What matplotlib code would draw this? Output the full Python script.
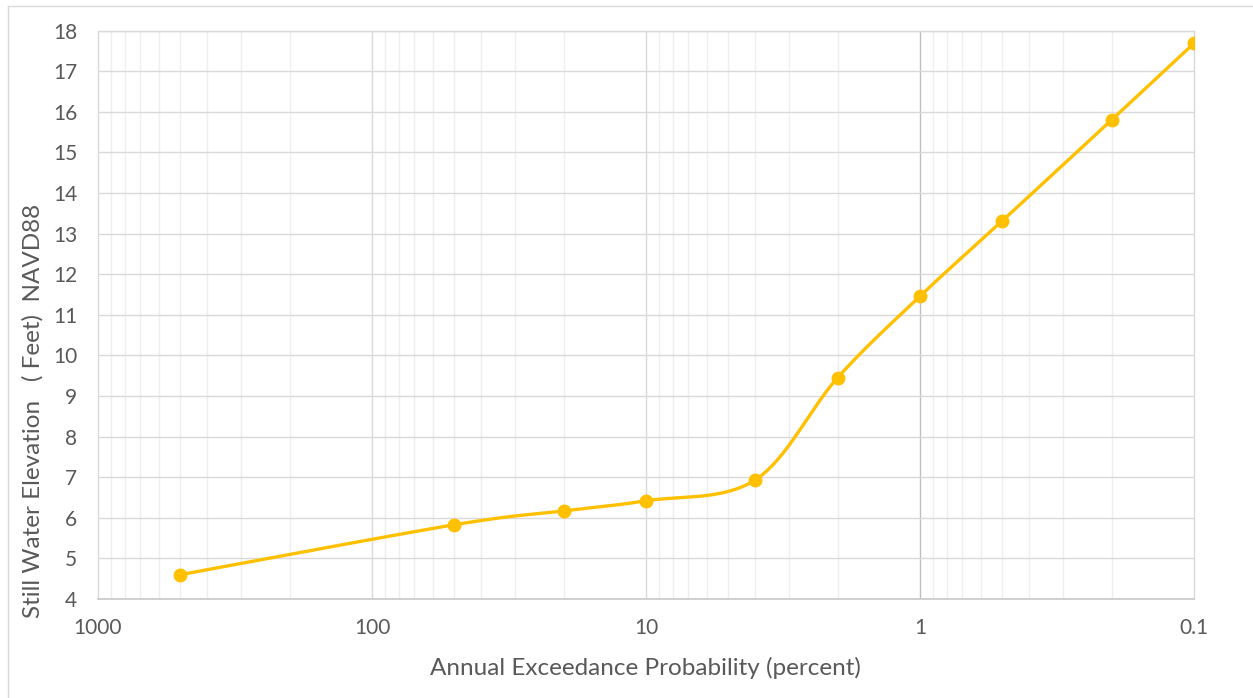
import matplotlib
matplotlib.use("Agg")
import matplotlib.pyplot as plt
import numpy as np
from matplotlib.lines import Line2D
from matplotlib.ticker import FixedLocator, LogLocator, NullFormatter

# annual exceedance probability (percent) and still water elevation (ft NAVD88)
prob = [500, 50, 20, 10, 4, 2, 1, 0.5, 0.2, 0.1]
elev = [4.6, 5.83, 6.17, 6.42, 6.93, 9.45, 11.46, 13.32, 15.8, 17.69]

x_ticks = [1000, 100, 10, 1, 0.1]
x_labels = ['1000', '100', '10', '1', '0.1']
y_ticks = list(range(4, 19))

plt.rcParams['font.family'] = ['Lato', 'DejaVu Sans']
txt = '#595959'

W, H = 1253, 698
fig = plt.figure(figsize=(W / 100, H / 100), dpi=100)
ax = fig.add_axes([98 / W, 1 - 599 / H, (1194 - 98) / W, (599 - 30.7) / H])

ax.set_xscale('log')
ax.set_xlim(1000, 0.1)
ax.set_ylim(4, 18)

# grid: minor log lines, horizontal lines, decade lines
ax.xaxis.set_major_locator(FixedLocator(x_ticks))
ax.set_xticklabels(x_labels)
ax.xaxis.set_minor_locator(LogLocator(base=10, subs=np.arange(2, 10)))
ax.xaxis.set_minor_formatter(NullFormatter())
ax.set_yticks(y_ticks)
ax.grid(which='minor', axis='x', color='#eeeeee', lw=1.0, zorder=0)
ax.grid(which='major', axis='y', color='#d9d9d9', lw=1.0, zorder=0)
for xv in [100, 10]:
    ax.axvline(xv, color='#d9d9d9', lw=1.0, zorder=0.5)
ax.axvline(1, color='#bfbfbf', lw=1.0, zorder=0.5)

for s in ['left', 'top', 'right']:
    ax.spines[s].set_color('#d9d9d9')
    ax.spines[s].set_linewidth(1.0)
ax.spines['bottom'].set_color('#c8c8c8')
ax.spines['bottom'].set_linewidth(1.2)

ax.tick_params(which='both', length=0)
ax.tick_params(axis='y', pad=15, labelsize=15, labelcolor=txt)
ax.tick_params(axis='x', pad=14, labelsize=15, labelcolor=txt)


def smooth(pts, n=40):
    # cubic bezier through the points, control points from neighbours
    out = [pts[0]]
    last = len(pts) - 1
    t = np.linspace(0, 1, n)[1:, None]
    for i in range(last):
        p0 = pts[max(i - 1, 0)]
        p1 = pts[i]
        p2 = pts[i + 1]
        p3 = pts[min(i + 2, last)]
        c1 = p1 + (p2 - p0) / 6
        c2 = p2 - (p3 - p1) / 6
        seg = (1 - t) ** 3 * p1 + 3 * (1 - t) ** 2 * t * c1 + 3 * (1 - t) * t ** 2 * c2 + t ** 3 * p2
        out.extend(seg)
    return np.array(out)


# smooth in screen space, then map back to data coords
disp = ax.transData.transform(np.column_stack([prob, elev]))
curve = ax.transData.inverted().transform(smooth(disp))
ax.plot(curve[:, 0], curve[:, 1], color='#FFC000', lw=2.4, solid_capstyle='round', zorder=3)
ax.plot(prob, elev, 'o', color='#FFC000', ms=9, zorder=4)

fig.text(645 / W, 1 - 668 / H, 'Annual Exceedance Probability (percent)',
         ha='center', va='center', fontsize=17.5, color=txt)
fig.text(33 / W, 1 - 411 / H, 'Still Water Elevation   ( Feet)  NAVD88',
         ha='center', va='center', rotation=90, fontsize=17.5, color=txt)

# chart frame
fig.add_artist(Line2D([7.5 / W, 7.5 / W], [0, 1 - 5.5 / H], color='#d9d9d9', lw=1.0))
fig.add_artist(Line2D([7.5 / W, 1], [1 - 5.5 / H, 1 - 5.5 / H], color='#d9d9d9', lw=1.0))

fig.savefig('out.png', dpi=100, facecolor='white')
